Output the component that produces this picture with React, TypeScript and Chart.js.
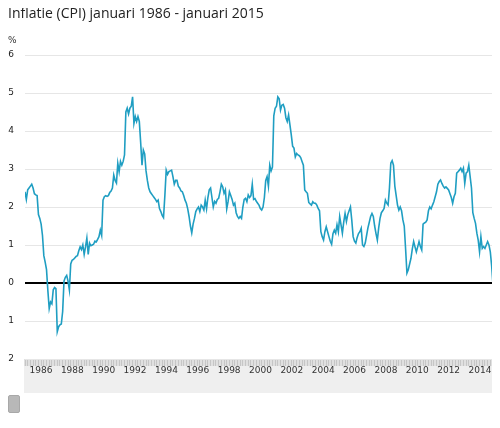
import React, { useEffect, useRef } from 'react';
import { Chart, registerables } from 'chart.js';

Chart.register(...registerables);

const chartTitle = 'Inflatie (CPI) januari 1986 - januari 2015';
const unitLabel = '%';
const startYear = 1986;

// monthly CPI inflation (%), January .. December
const y1986 = [2.4, 2.2, 2.45, 2.5, 2.55, 2.6, 2.5, 2.35, 2.32, 2.3, 1.8, 1.7];
const y1987 = [1.55, 1.25, 0.72, 0.55, 0.35, -0.2, -0.67, -0.5, -0.55, -0.18, -0.12, -0.15];
const y1988 = [-1.28, -1.15, -1.1, -1.08, -0.75, 0.05, 0.15, 0.2, 0.05, -0.18, 0.5, 0.6];
const y1989 = [0.62, 0.66, 0.7, 0.72, 0.85, 0.95, 0.88, 1.0, 0.75, 0.95, 1.18, 0.75];
const y1990 = [1.05, 0.98, 1.0, 1.02, 1.1, 1.08, 1.15, 1.22, 1.39, 1.25, 2.18, 2.27];
const y1991 = [2.3, 2.28, 2.3, 2.38, 2.42, 2.5, 2.84, 2.7, 2.63, 3.15, 2.93, 3.2];
const y1992 = [3.1, 3.2, 3.37, 4.5, 4.6, 4.45, 4.6, 4.65, 4.9, 4.2, 4.38, 4.25];
const y1993 = [4.38, 4.25, 3.7, 3.1, 3.5, 3.4, 2.95, 2.7, 2.5, 2.4, 2.35, 2.3];
const y1994 = [2.25, 2.2, 2.14, 2.18, 1.96, 1.88, 1.78, 1.72, 2.3, 2.97, 2.86, 2.93];
const y1995 = [2.95, 2.97, 2.8, 2.6, 2.7, 2.7, 2.55, 2.5, 2.42, 2.4, 2.3, 2.18];
const y1996 = [2.1, 1.95, 1.75, 1.5, 1.32, 1.55, 1.7, 1.88, 1.95, 2.0, 1.88, 2.05];
const y1997 = [2.0, 1.92, 2.18, 1.95, 2.25, 2.45, 2.5, 2.25, 2.0, 2.15, 2.1, 2.2];
const y1998 = [2.23, 2.4, 2.6, 2.53, 2.36, 2.45, 1.95, 2.14, 2.4, 2.3, 2.2, 2.05];
const y1999 = [2.1, 1.85, 1.75, 1.7, 1.75, 1.7, 2.0, 2.2, 2.23, 2.14, 2.32, 2.25];
const y2000 = [2.3, 2.6, 2.2, 2.22, 2.15, 2.1, 2.05, 1.96, 1.92, 2.0, 2.25, 2.7];
const y2001 = [2.8, 2.55, 3.1, 2.95, 3.05, 4.4, 4.6, 4.65, 4.9, 4.85, 4.55, 4.68];
const y2002 = [4.7, 4.6, 4.35, 4.25, 4.42, 4.16, 3.9, 3.6, 3.55, 3.32, 3.41, 3.37];
const y2003 = [3.35, 3.3, 3.2, 3.1, 2.45, 2.4, 2.36, 2.12, 2.08, 2.05, 2.14, 2.1];
const y2004 = [2.1, 2.05, 1.96, 1.9, 1.35, 1.22, 1.13, 1.35, 1.48, 1.35, 1.22, 1.1];
const y2005 = [1.02, 1.3, 1.39, 1.31, 1.53, 1.35, 1.75, 1.53, 1.31, 1.6, 1.83, 1.62];
const y2006 = [1.8, 1.9, 2.0, 1.65, 1.22, 1.1, 1.05, 1.2, 1.3, 1.35, 1.44, 1.0];
const y2007 = [0.96, 1.05, 1.25, 1.45, 1.6, 1.75, 1.83, 1.75, 1.5, 1.3, 1.13, 1.45];
const y2008 = [1.7, 1.85, 1.9, 1.96, 2.18, 2.1, 2.05, 2.5, 3.15, 3.22, 3.1, 2.55];
const y2009 = [2.3, 2.05, 1.92, 2.0, 1.9, 1.66, 1.5, 0.9, 0.26, 0.35, 0.5, 0.65];
const y2010 = [0.9, 1.09, 0.95, 0.82, 0.95, 1.09, 0.96, 0.87, 1.55, 1.58, 1.6, 1.66];
const y2011 = [1.9, 2.0, 1.95, 2.05, 2.14, 2.27, 2.4, 2.6, 2.67, 2.71, 2.62, 2.55];
const y2012 = [2.5, 2.53, 2.49, 2.45, 2.35, 2.25, 2.1, 2.27, 2.36, 2.89, 2.93, 2.97];
const y2013 = [3.02, 2.93, 3.02, 2.62, 2.89, 2.93, 3.1, 2.8, 2.5, 1.85, 1.7, 1.57];
const y2014 = [1.31, 1.13, 0.82, 1.22, 0.91, 0.96, 0.91, 1.0, 1.09, 1.0, 0.82, 0.45];
const y2015 = [-0.05];

const yearSeries = [
  y1986, y1987, y1988, y1989, y1990, y1991, y1992, y1993, y1994, y1995,
  y1996, y1997, y1998, y1999, y2000, y2001, y2002, y2003, y2004, y2005,
  y2006, y2007, y2008, y2009, y2010, y2011, y2012, y2013, y2014, y2015,
];

const yearTickLabels = ['1986', '1988', '1990', '1992', '1994', '1996', '1998', '2000', '2002', '2004', '2006', '2008', '2010', '2012', '2014'];
const yTickLabels = ['-2', '-1', '0', '1', '2', '3', '4', '5', '6'];

const lineColor = '#1f9ec2';

const bandPlugin = {
  id: 'axisBand',
  beforeDraw(chart: any) {
    const { ctx, chartArea } = chart;
    const x2 = chart.scales.x2;
    const h = x2.bottom - chartArea.bottom;
    ctx.save();
    ctx.fillStyle = '#efefef';
    ctx.fillRect(chartArea.left - 1, chartArea.bottom, chartArea.right - chartArea.left + 1, h);
    ctx.fillStyle = '#e0e0e0';
    ctx.fillRect(chartArea.left - 1, chartArea.bottom, chartArea.right - chartArea.left + 1, 7);
    ctx.restore();
  },
};

export default function App() {
  const canvasRef = useRef<HTMLCanvasElement | null>(null);

  useEffect(() => {
    if (!canvasRef.current) return;
    const points: { x: number; y: number }[] = [];
    yearSeries.forEach((vals, i) => {
      vals.forEach((v, k) => points.push({ x: startYear + i + k / 12, y: v }));
    });

    const chart = new Chart(canvasRef.current, {
      type: 'line',
      data: {
        datasets: [
          {
            data: points,
            borderColor: lineColor,
            borderWidth: 1.6,
            pointRadius: 0,
            tension: 0,
            fill: false,
          },
        ],
      },
      options: {
        animation: false,
        responsive: false,
        maintainAspectRatio: false,
        devicePixelRatio: 1,
        layout: { padding: { left: 0, right: 7, top: 55, bottom: 35 } },
        plugins: { legend: { display: false }, tooltip: { enabled: false }, title: { display: false } },
        scales: {
          x: {
            type: 'linear',
            position: 'bottom',
            weight: 0,
            min: 1986,
            max: 2015,
            afterBuildTicks: (scale: any) => {
              const t: any[] = [];
              for (let m = 0; m <= 348; m += 2) t.push({ value: 1986 + m / 12 });
              scale.ticks = t;
            },
            afterFit: (scale: any) => {
              scale.height = 7;
            },
            ticks: { display: false },
            grid: { drawOnChartArea: false, drawTicks: true, tickLength: 7, color: '#c6c6c6', lineWidth: 1 },
            border: { display: false },
          },
          x2: {
            type: 'linear',
            position: 'bottom',
            weight: 1,
            min: 1984.98,
            max: 2014.83,
            afterBuildTicks: (scale: any) => {
              scale.ticks = yearTickLabels.map((l) => ({ value: Number(l) }));
            },
            afterFit: (scale: any) => {
              scale.height = 27;
            },
            ticks: {
              autoSkip: false,
              maxRotation: 0,
              padding: -1,
              color: '#333',
              font: { family: 'DejaVu Sans', size: 9 },
              callback: (v: any) => String(v),
            },
            grid: { display: false, drawTicks: false },
            border: { display: false },
          },
          y: {
            type: 'linear',
            min: -2,
            max: 6,
            afterBuildTicks: (scale: any) => {
              scale.ticks = yTickLabels.map((l) => ({ value: Number(l) }));
            },
            afterFit: (scale: any) => {
              scale.width = 25;
            },
            afterUpdate: (scale: any) => {
              scale._computeLabelArea = () => undefined;
            },
            ticks: {
              padding: 11,
              color: '#222',
              font: { family: 'DejaVu Sans', size: 9 },
              callback: (v: any, i: number) => yTickLabels[i],
            },
            grid: {
              drawTicks: false,
              color: (c: any) => (c.tick && c.tick.value === 0 ? '#000000' : '#e6e6e6'),
              lineWidth: (c: any) => (c.tick && c.tick.value === 0 ? 2 : 1),
            },
            border: { display: false },
          },
        },
      },
      plugins: [bandPlugin],
    });
    return () => chart.destroy();
  }, []);

  return (
    <div style={{ position: 'relative', width: 484, height: 412 }}>
      <canvas
        ref={canvasRef}
        width={500}
        height={428}
        style={{ position: 'absolute', left: -8, top: -8, width: 500, height: 428 }}
      />
      <div
        style={{
          position: 'absolute',
          left: 0,
          top: -5,
          fontFamily: '"Open Sans", sans-serif',
          fontSize: 14,
          lineHeight: '19px',
          color: '#222',
          whiteSpace: 'nowrap',
        }}
      >
        {chartTitle}
      </div>
      <div
        style={{
          position: 'absolute',
          left: 0,
          top: 27,
          fontFamily: '"DejaVu Sans", sans-serif',
          fontSize: 9,
          lineHeight: '11px',
          color: '#333',
        }}
      >
        {unitLabel}
      </div>
      <div
        style={{
          position: 'absolute',
          left: 0,
          top: 387,
          width: 12,
          height: 18,
          background: '#b8b8b8',
          borderRadius: 2,
          border: '1px solid #a8a8a8',
          boxSizing: 'border-box',
        }}
      />
    </div>
  );
}
